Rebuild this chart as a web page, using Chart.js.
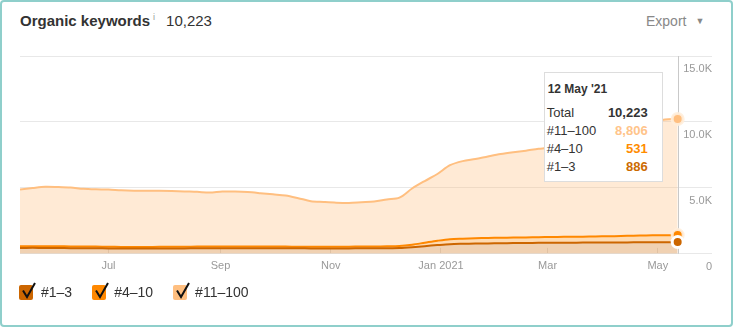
<!DOCTYPE html>
<html>
<head>
<meta charset="utf-8">
<title>Organic keywords</title>
<script src="https://cdn.jsdelivr.net/npm/chart.js@4.4.1/dist/chart.umd.min.js"></script>
<style>
  html, body { margin: 0; padding: 0; background: #fff; }
  body {
    position: relative;
    width: 733px; height: 327px; overflow: hidden;
    font-family: "Liberation Sans", Arial, Helvetica, sans-serif;
    color: #333;
  }
  .frame {
    position: absolute; left: 0; top: 0; right: 0; bottom: 0;
    border: 2px solid #8fcfcb; border-radius: 4px; pointer-events: none;
  }
  .head { position: absolute; left: 20px; top: 12px; line-height: 18px; white-space: nowrap; }
  .head .ttl { font-weight: bold; font-size: 15px; color: #333; }
  .head sup { font-size: 9px; color: #999; margin-left: 3px; vertical-align: 6px; line-height: 0; }
  .head .num { font-size: 15px; color: #333; margin-left: 11px; }
  .export { position: absolute; left: 646px; top: 12px; line-height: 18px; font-size: 14px; color: #888; }
  .export .caret { font-size: 9px; margin-left: 9px; vertical-align: 2px; }
  .plot { position: absolute; left: 0; top: 40px; width: 733px; height: 253px; }
  #legend { position: absolute; left: 19px; top: 284px; display: flex; }
  #legend .item { display: flex; align-items: center; margin-right: 20px; font-size: 14px; color: #333; }
  #legend .box { position: relative; width: 14px; height: 15px; border-radius: 2px; margin-right: 8px; }
  #legend .box svg { position: absolute; left: 0; top: -3px; overflow: visible; }
  #tip {
    position: absolute; display: none; box-sizing: border-box;
    background: #fff; border: 1px solid #ddd;
    padding: 8px 14px 5px 2px; font-size: 13px; color: #333;
  }
  #tip .tt { font-weight: bold; font-size: 12px; line-height: 16px; padding-left: 1px; margin-bottom: 7px; }
  #tip table { border-collapse: collapse; width: 101px; }
  #tip td { padding: 0; line-height: 18px; white-space: nowrap; }
  #tip td.v { text-align: right; font-weight: bold; }
</style>
</head>
<body>
<div class="head"><span class="ttl">Organic keywords</span><sup>i</sup><span class="num">10,223</span></div>
<div class="export">Export<span class="caret">&#9660;</span></div>
<div class="plot"><canvas id="kw"></canvas></div>
<div id="legend"></div>
<div id="tip"></div>
<div class="frame"></div>

<script>
// weekly snapshots of ranking keywords
const dates = [
  "2020-05-13", "2020-05-20", "2020-05-27", "2020-06-03", "2020-06-10", "2020-06-17", "2020-06-24",
  "2020-07-01", "2020-07-08", "2020-07-15", "2020-07-22", "2020-07-29", "2020-08-05", "2020-08-12",
  "2020-08-19", "2020-08-26", "2020-09-02", "2020-09-09", "2020-09-16", "2020-09-23", "2020-09-30",
  "2020-10-07", "2020-10-14", "2020-10-21", "2020-10-28", "2020-11-04", "2020-11-11", "2020-11-18",
  "2020-11-25", "2020-12-02", "2020-12-09", "2020-12-16", "2020-12-23", "2020-12-30", "2021-01-06",
  "2021-01-13", "2021-01-20", "2021-01-27", "2021-02-03", "2021-02-10", "2021-02-17", "2021-02-24",
  "2021-03-03", "2021-03-10", "2021-03-17", "2021-03-24", "2021-03-31", "2021-04-07", "2021-04-14",
  "2021-04-21", "2021-04-28", "2021-05-05", "2021-05-12"
];

const rank1to3 = [
  440, 450, 445, 440, 430, 425, 420,
  410, 405, 400, 400, 405, 410, 410,
  415, 420, 420, 425, 425, 420, 420,
  415, 415, 410, 410, 410, 410, 415,
  420, 425, 440, 500, 580, 660, 730,
  760, 780, 790, 800, 810, 820, 830,
  835, 840, 845, 850, 855, 860, 865,
  870, 878, 884, 886
];

const rank4to10 = [
  130, 130, 135, 135, 130, 130, 125,
  125, 120, 120, 120, 125, 125, 130,
  130, 135, 135, 135, 130, 130, 130,
  130, 125, 125, 125, 130, 130, 135,
  135, 140, 150, 190, 260, 330, 380,
  390, 400, 410, 415, 420, 425, 430,
  440, 445, 450, 460, 470, 480, 495,
  510, 520, 528, 531
];

const rank11to100 = [
  4310, 4410, 4500, 4485, 4460, 4375, 4345,
  4335, 4285, 4260, 4260, 4260, 4235, 4190,
  4155, 4085, 4175, 4160, 4125, 4050, 3960,
  3875, 3680, 3455, 3395, 3340, 3320, 3360,
  3405, 3555, 3670, 4260, 4680, 5060, 5610,
  5880, 6010, 6180, 6345, 6470, 6575, 6700,
  6785, 6865, 6935, 7010, 7095, 7260, 7740,
  8220, 8552, 8768, 8806
];

const seriesNames = ["#1–3", "#4–10", "#11–100"];
const lineColors = ["#cc6600", "#ff8800", "#ffbf80"];
const fillColors = ["rgba(204, 102, 0, 0.3)", "rgba(255, 136, 0, 0.3)", "rgba(255, 191, 128, 0.33)"];
const valueColors = ["#cc6a00", "#ff8c00", "#ffc48a"];

const monthTickDates = ["2020-07-01", "2020-09-01", "2020-11-01", "2021-01-01", "2021-03-01", "2021-05-01"];
const monthTickLabels = ["Jul", "Sep", "Nov", "Jan 2021", "Mar", "May"];
const yTickValues = [0, 5000, 10000, 15000];
const axisEndDate = "2021-05-31";

const MONTHS = ["Jan", "Feb", "Mar", "Apr", "May", "Jun", "Jul", "Aug", "Sep", "Oct", "Nov", "Dec"];
const DAY = 86400000;
const t0 = Date.parse(dates[0]);
const dayOf = (d) => Math.round((Date.parse(d) - t0) / DAY);

function points(values) {
  return dates.map((d, i) => ({ x: dayOf(d), y: values[i] }));
}

function shortDate(str) {
  const d = new Date(str + "T00:00:00Z");
  return `${d.getUTCDate()} ${MONTHS[d.getUTCMonth()]} '${String(d.getUTCFullYear()).slice(2)}`;
}

function fmtK(v) {
  return v === 0 ? "0" : (v / 1000).toFixed(1) + "K";
}

const tipEl = document.getElementById("tip");
const plotEl = document.querySelector(".plot");

function renderTooltip({ chart, tooltip }) {
  if (tooltip.opacity === 0 || !tooltip.dataPoints || !tooltip.dataPoints.length) {
    tipEl.style.display = "none";
    return;
  }
  const idx = tooltip.dataPoints[0].dataIndex;
  const vals = [rank1to3[idx], rank4to10[idx], rank11to100[idx]];
  const total = vals[0] + vals[1] + vals[2];
  let rows = `<tr><td>Total</td><td class="v">${total.toLocaleString("en-US")}</td></tr>`;
  for (let i = vals.length - 1; i >= 0; i--) {
    rows += `<tr><td>${seriesNames[i]}</td><td class="v" style="color:${valueColors[i]}">${vals[i].toLocaleString("en-US")}</td></tr>`;
  }
  tipEl.innerHTML = `<div class="tt">${shortDate(dates[idx])}</div><table>${rows}</table>`;
  tipEl.style.display = "block";
  const w = tipEl.offsetWidth;
  tipEl.style.left = (plotEl.offsetLeft + tooltip.caretX - 15 - w) + "px";
  tipEl.style.top = (plotEl.offsetTop + chart.chartArea.top + 16) + "px";
}

// vertical guide under the hovered date
const hoverLine = {
  id: "hoverLine",
  beforeDatasetsDraw(chart) {
    const active = chart.tooltip.getActiveElements();
    if (!active.length) return;
    const x = Math.round(active[0].element.x) + 0.5;
    const { top, bottom } = chart.chartArea;
    const c = chart.ctx;
    c.save();
    c.strokeStyle = "#c9c9c9";
    c.lineWidth = 1;
    c.beginPath();
    c.moveTo(x, top);
    c.lineTo(x, bottom);
    c.stroke();
    c.restore();
  }
};

// checkbox legend built from the datasets
const htmlLegend = {
  id: "htmlLegend",
  afterUpdate(chart) {
    const box = document.getElementById("legend");
    box.innerHTML = "";
    chart.data.datasets.forEach((ds) => {
      const item = document.createElement("div");
      item.className = "item";
      item.innerHTML =
        `<span class="box" style="background:${ds.borderColor}">` +
        `<svg width="18" height="18" viewBox="0 0 18 18"><path d="M4 8.5 L8 15 L16 1" fill="none" stroke="#111" stroke-width="2" stroke-linejoin="miter"/></svg>` +
        `</span><span>${ds.label}</span>`;
      box.appendChild(item);
    });
  }
};

const seriesValues = [rank1to3, rank4to10, rank11to100];
const datasets = seriesValues.map((vals, i) => ({
  label: seriesNames[i],
  data: points(vals),
  borderColor: lineColors[i],
  backgroundColor: fillColors[i],
  pointBackgroundColor: lineColors[i],
  pointHoverBackgroundColor: lineColors[i],
  pointHoverBorderColor: i === 0 ? "#ffffff" : "rgba(255, 238, 220, 0.9)",
  fill: i === 0 ? "origin" : "-1"
}));

const chart = new Chart(document.getElementById("kw"), {
  type: "line",
  data: { datasets },
  options: {
    animation: false,
    responsive: true,
    maintainAspectRatio: false,
    layout: { padding: { left: 20, right: 21, top: 16, bottom: 8 } },
    interaction: { mode: "index", intersect: false },
    elements: {
      point: { radius: 0, hoverRadius: 5.5, hoverBorderWidth: 3 },
      line: { tension: 0.3, borderWidth: 2 }
    },
    scales: {
      x: {
        type: "linear",
        min: 0,
        max: dayOf(axisEndDate),
        border: { display: false },
        grid: { drawOnChartArea: false, tickLength: -6, color: "rgba(0, 0, 0, 0.09)" },
        afterBuildTicks: (scale) => {
          scale.ticks = monthTickDates.map((d) => ({ value: dayOf(d) }));
        },
        ticks: {
          autoSkip: false,
          maxRotation: 0,
          padding: 12,
          color: "#999",
          font: { family: "'Liberation Sans', Arial, sans-serif", size: 11 },
          callback: (value, index) => monthTickLabels[index]
        }
      },
      y: {
        position: "right",
        stacked: true,
        min: 0,
        max: 15000,
        border: { display: false },
        grid: { color: "#e8e8e8", drawTicks: false },
        afterBuildTicks: (scale) => {
          scale.ticks = yTickValues.map((v) => ({ value: v }));
        },
        ticks: {
          mirror: true,
          padding: 0,
          labelOffset: 13,
          color: "#999",
          font: { family: "'Liberation Sans', Arial, sans-serif", size: 11 },
          callback: (value) => fmtK(value)
        }
      }
    },
    plugins: {
      legend: { display: false },
      tooltip: { enabled: false, external: renderTooltip }
    }
  },
  plugins: [hoverLine, htmlLegend]
});

// show the latest snapshot as hovered
const last = dates.length - 1;
const activeAll = datasets.map((_, i) => ({ datasetIndex: i, index: last }));
chart.setActiveElements(activeAll);
const endPt = chart.getDatasetMeta(2).data[last];
chart.tooltip.setActiveElements(activeAll, { x: endPt.x, y: endPt.y });
chart.update();
</script>
</body>
</html>
